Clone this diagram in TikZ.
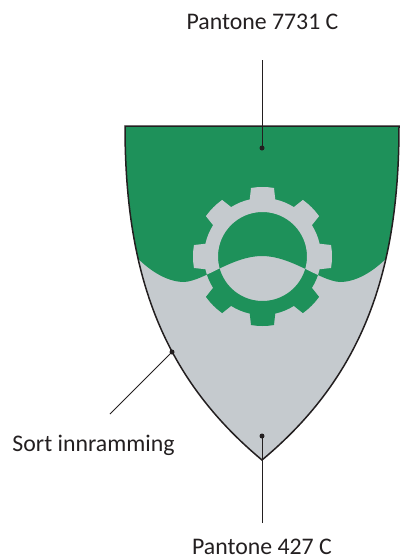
\documentclass[tikz,border=0pt]{standalone}
\usepackage{fontspec}
\setmainfont{Carlito}
\definecolor{shieldgreen}{HTML}{1E915A}
\definecolor{shieldgray}{HTML}{C5CACE}
\definecolor{inkline}{HTML}{231F20}
\tikzset{
  lbl/.style={font=\fontsize{23.8}{28}\selectfont, text=inkline, inner sep=0pt},
  leader/.style={draw=inkline, line width=0.9pt},
  dotmark/.style={circle, fill=inkline, inner sep=0pt, minimum size=5pt},
}
\def\shieldpath{(125,-126) -- (399,-126) .. controls (399,-270) and (364,-375) .. (262,-460) .. controls (160,-375) and (125,-270) .. (125,-126) -- cycle}
\def\toppath{(110,-110) -- (414,-110) -- (414,-232) -- (394,-250) .. controls (378,-269) and (358,-282) .. (340,-282) .. controls (320,-281) and (292,-256) .. (262,-256) .. controls (232,-256) and (204,-281) .. (184,-282) .. controls (166,-282) and (146,-269) .. (130,-250) -- (110,-232) -- cycle}
\def\gearpath{(262.5,-256.5) circle[radius=44.5]
  [shift={(262.5,-256.5)}] (-9.5:69.5)
  foreach \a in {0,45,...,315}{
    arc[start angle=\a-9.5,end angle=\a+9.5,radius=69.5]
    -- ({\a+12.6}:58.5)
    arc[start angle=\a+12.6,end angle=\a+32.4,radius=58.5]
    -- ({\a+35.5}:69.5)
  } -- cycle}
\begin{document}
\begin{tikzpicture}[x=1pt,y=1pt]
\useasboundingbox (0,0) rectangle (401,-560);
\fill[shieldgray] \shieldpath;
\begin{scope}
  \clip \shieldpath;
  \fill[shieldgreen] \toppath;
  \fill[shieldgreen,even odd rule] \gearpath;
  \clip \toppath;
  \fill[shieldgray,even odd rule] \gearpath;
\end{scope}
\draw[inkline,line width=1.5pt,line join=miter] \shieldpath;
\node[lbl] (ltop) at (262.5,-22) {Pantone 7731 C};
\node[lbl] (lbot) at (262,-547) {Pantone 427 C};
\node[lbl] (lleft) at (93.5,-445) {Sort innramming};
\coordinate (topstart) at (262,-60);
\coordinate (botstart) at (262,-523);
\coordinate (leftstart) at (110,-414);
\node[dotmark] (dtop) at (262,-148) {};
\node[dotmark] (dbot) at (262,-436) {};
\node[dotmark] (dleft) at (172,-352) {};
\draw[leader] (topstart) -- (dtop.center);
\draw[leader] (botstart) -- (dbot.center);
\draw[leader] (leftstart) -- (dleft.center);
\end{tikzpicture}
\end{document}
